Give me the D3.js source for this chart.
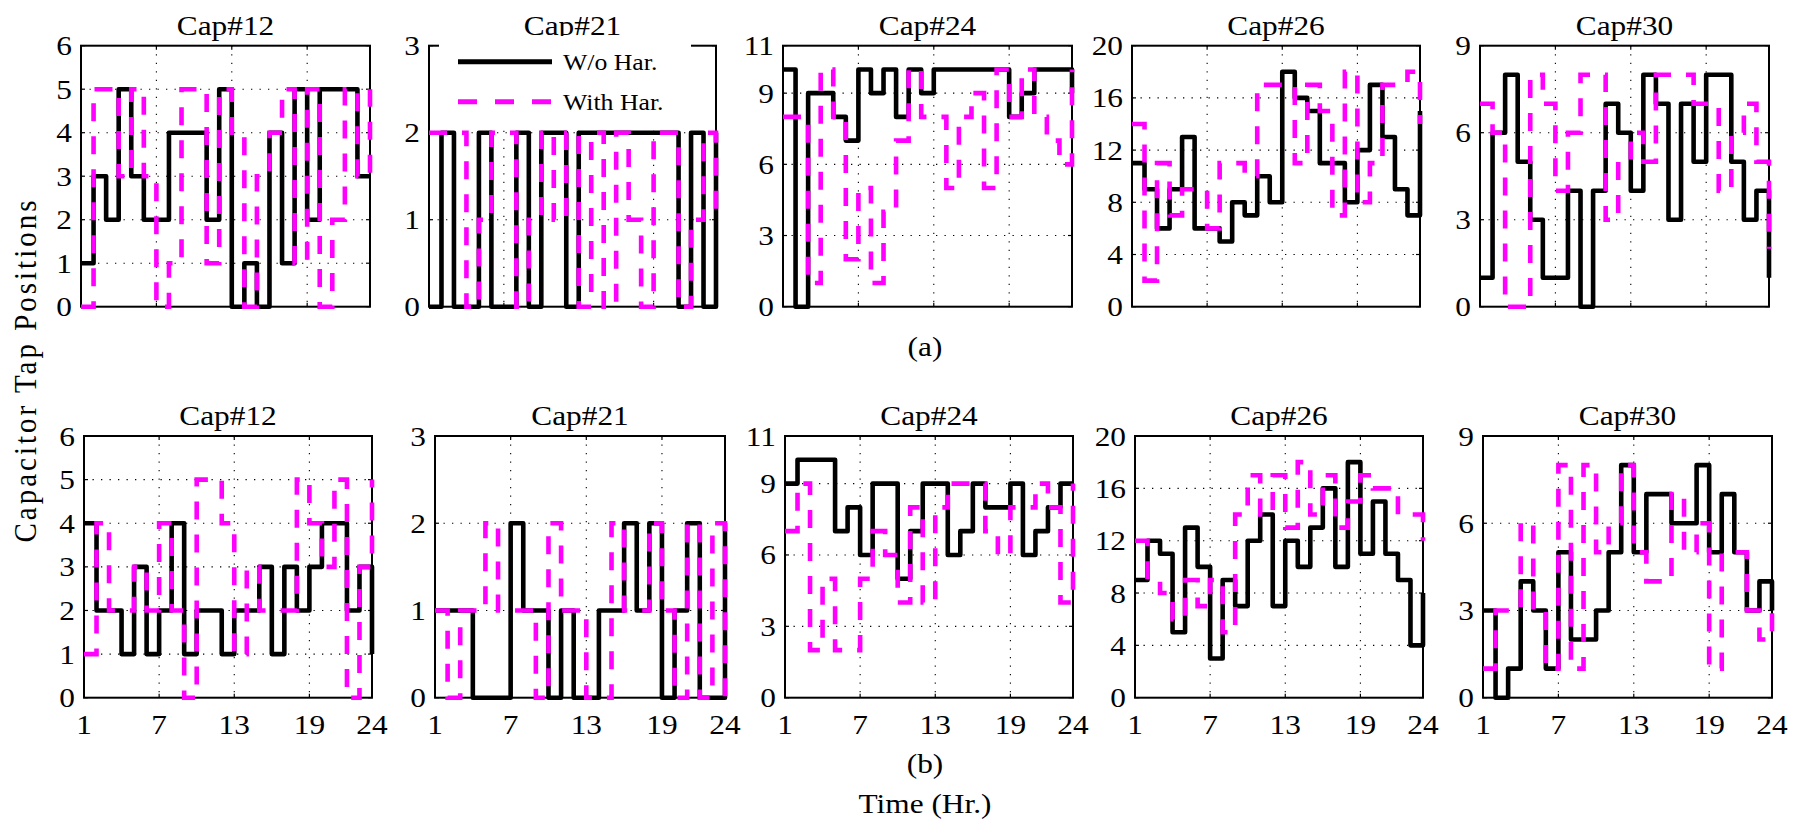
<!DOCTYPE html>
<html><head><meta charset="utf-8">
<script src="https://cdn.jsdelivr.net/npm/d3@7"></script>
<style>
body{margin:0;background:#fff}
svg{display:block}
text{font-family:"Liberation Serif","Times New Roman",serif;fill:#000}
</style>
</head><body>
<svg id="chart" width="1809" height="822"></svg>
<script>
// ---------------- data ----------------
const hours = [1,2,3,4,5,6,7,8,9,10,11,12,13,14,15,16,17,18,19,20,21,22,23,24];
const capNames = ["Cap#12","Cap#21","Cap#24","Cap#26","Cap#30"];
const yMaxes = [6,3,11,20,9];
const yTicks = [[0,1,2,3,4,5,6],[0,1,2,3],[0,3,6,9,11],[0,4,8,12,16,20],[0,3,6,9]];
const xTicks = [1,7,13,19,24];
const rowLabels = ["(a)","(b)"];
const legendLabels = ["W/o Har.","With Har."];
const xTitle = "Time (Hr.)";
const yTitle = "Capacitor Tap Positions";

// (a) row
const a12_wo = [1,3,2,5,3,2,2,4,4,4,2,5,0,1,0,4,1,5,2,5,5,5,3,3];
const a12_w  = [0,5,5,3,5,3,0,1,5,5,1,5,4,0,3,4,5,1,5,0,2,5,3,5];
const a21_wo = [0,2,0,0,2,0,0,2,0,2,2,0,2,2,2,2,2,2,2,2,0,2,0,2];
const a21_w  = [2,2,2,0,1,2,2,0,1,2,1,2,0,2,0,2,1,0,2,2,0,1,2,1];
const a24_wo = [10,0,9,9,8,7,10,9,10,8,10,9,10,10,10,10,10,10,8,9,10,10,10,9];
const a24_w  = [8,8,1,10,8,2,5,1,4,7,10,8,8,5,8,9,5,10,8,10,8,7,6,10];
const a26_wo = [11,9,6,9,13,6,6,5,8,7,10,8,18,16,15,11,11,8,12,17,13,9,7,15];
const a26_w  = [14,2,11,7,9,9,6,11,11,10,17,17,17,11,17,15,7,18,8,11,17,17,18,14];
const a30_wo = [1,6,8,5,3,1,1,4,0,4,7,6,4,8,7,3,7,5,8,8,5,3,4,1];
const a30_w  = [7,6,0,0,8,7,4,6,8,8,3,5,6,5,8,8,8,7,7,4,6,7,5,2];
// (b) row
const b12_wo = [4,2,2,1,3,1,2,4,1,2,2,1,2,2,3,1,3,2,3,4,4,2,3,1];
const b12_w  = [1,4,2,2,3,2,4,2,0,5,5,4,1,3,2,2,2,5,4,3,5,0,3,5];
const b21_wo = [1,1,1,0,0,0,2,1,1,0,1,0,0,1,1,2,1,2,0,1,2,0,0,2];
const b21_w  = [1,0,1,1,2,1,1,1,0,2,1,1,0,0,2,1,1,2,1,0,2,0,2,0];
const b24_wo = [9,10,10,10,7,8,6,9,9,5,7,9,9,6,7,9,8,8,9,6,7,8,9,9];
const b24_w  = [7,9,2,5,2,2,5,7,6,4,8,4,8,9,9,9,7,6,8,8,9,8,4,9];
const b26_wo = [9,12,11,5,13,10,3,9,7,12,14,7,12,10,13,16,10,18,11,15,11,9,4,8];
const b26_w  = [12,9,8,6,9,7,9,5,14,17,14,17,13,18,14,17,13,15,17,16,16,14,14,12];
const b30_wo = [3,0,1,4,3,1,5,2,2,3,5,8,5,7,7,6,6,8,5,7,5,3,4,3];
const b30_w  = [1,3,3,6,3,1,8,1,8,5,6,8,5,4,4,7,5,6,1,5,5,3,2,3];

const rowsData = [
  [[a12_wo,a12_w],[a21_wo,a21_w],[a24_wo,a24_w],[a26_wo,a26_w],[a30_wo,a30_w]],
  [[b12_wo,b12_w],[b21_wo,b21_w],[b24_wo,b24_w],[b26_wo,b26_w],[b30_wo,b30_w]]
];

// ---------------- layout ----------------
const layout = [
  {top:45.7, bottom:306.7, lefts:[81,429,783,1132,1480], rights:[370,716,1072,1420,1769],
   titleY:25, showX:false, labelY:346},
  {top:436, bottom:697.7, lefts:[84,435,785,1135,1483], rights:[372,725,1073,1423,1772],
   titleY:415, showX:true, labelY:763}
];
const SX = 1.12;
const FONT = "Liberation Serif, Times New Roman, serif";
const BLACK = "#000", MAG = "#ff00ff";

const svg = d3.select("#chart");

function txt(g, x, y, s, size, anchor, rot) {
  return g.append("text")
    .attr("transform", rot ? `translate(${x},${y}) rotate(-90) scale(1,${SX})`
                           : `translate(${x},${y}) scale(${SX},1)`)
    .attr("text-anchor", anchor || "middle")
    .attr("dy", "0.34em")
    .attr("font-family", FONT)
    .style("font-size", size + "px")
    .text(s);
}

layout.forEach((L, r) => {
  for (let p = 0; p < 5; p++) {
    const x = d3.scaleLinear().domain([1,24]).range([L.lefts[p], L.rights[p]]);
    const y = d3.scaleLinear().domain([0,yMaxes[p]]).range([L.bottom, L.top]);
    const g = svg.append("g");
    const x0 = L.lefts[p], x1 = L.rights[p];

    // grid
    yTicks[p].filter(v => v > 0 && v < yMaxes[p]).forEach(v => {
      g.append("line").attr("x1",x0).attr("x2",x1).attr("y1",y(v)).attr("y2",y(v))
        .attr("stroke","#000").attr("stroke-width",1.1).attr("stroke-dasharray","1.3,7.2");
    });
    xTicks.filter(v => v > 1 && v < 24).forEach(v => {
      g.append("line").attr("x1",x(v)).attr("x2",x(v)).attr("y1",L.top).attr("y2",L.bottom)
        .attr("stroke","#000").attr("stroke-width",1.1).attr("stroke-dasharray","1.3,7.2");
    });

    // tick marks (inward, mirrored)
    yTicks[p].forEach(v => {
      g.append("line").attr("x1",x0).attr("x2",x0+4).attr("y1",y(v)).attr("y2",y(v)).attr("stroke","#000").attr("stroke-width",1.2);
      g.append("line").attr("x1",x1).attr("x2",x1-4).attr("y1",y(v)).attr("y2",y(v)).attr("stroke","#000").attr("stroke-width",1.2);
    });
    xTicks.forEach(v => {
      g.append("line").attr("x1",x(v)).attr("x2",x(v)).attr("y1",L.bottom).attr("y2",L.bottom-4).attr("stroke","#000").attr("stroke-width",1.2);
      g.append("line").attr("x1",x(v)).attr("x2",x(v)).attr("y1",L.top).attr("y2",L.top+4).attr("stroke","#000").attr("stroke-width",1.2);
    });

    // frame
    g.append("rect").attr("x",x0).attr("y",L.top).attr("width",x1-x0).attr("height",L.bottom-L.top)
      .attr("fill","none").attr("stroke","#000").attr("stroke-width",2);

    // y tick labels
    yTicks[p].forEach(v => txt(g, x0 - 9, y(v), String(v), 28, "end"));
    // x tick labels
    if (L.showX) xTicks.forEach(v => txt(g, x(v), 724, String(v), 28, "middle"));
    // title
    txt(g, (x0+x1)/2, L.titleY, capNames[p], 28, "middle");

    // series
    const line = d3.line().x(d => x(d[0])).y(d => y(d[1])).curve(d3.curveStepAfter);
    const [wo, w] = rowsData[r][p];
    g.append("path").datum(hours.map((h,i)=>[h,wo[i]])).attr("d",line)
      .attr("fill","none").attr("stroke",BLACK).attr("stroke-width",4.6).attr("stroke-linejoin","round");
    g.append("path").datum(hours.map((h,i)=>[h,w[i]])).attr("d",line)
      .attr("fill","none").attr("stroke",MAG).attr("stroke-width",4.6).attr("stroke-dasharray","18,15")
      .attr("stroke-linejoin","miter");
  }
  // row label
  txt(svg, 925, L.labelY, rowLabels[r], 28, "middle");
});

// legend (in Cap#21 of row a)
const lg = svg.append("g");
lg.append("rect").attr("x",439).attr("y",36).attr("width",252).attr("height",92).attr("fill","#fff");
lg.append("line").attr("x1",458).attr("x2",552).attr("y1",61.7).attr("y2",61.7)
  .attr("stroke",BLACK).attr("stroke-width",5);
lg.append("line").attr("x1",458).attr("x2",552).attr("y1",101.7).attr("y2",101.7)
  .attr("stroke",MAG).attr("stroke-width",5).attr("stroke-dasharray","19,18");
txt(lg, 563, 61.7, legendLabels[0], 23, "start");
txt(lg, 563, 101.7, legendLabels[1], 23, "start");

// axis titles
txt(svg, 925, 803, xTitle, 28, "middle");
txt(svg, 25, 370, yTitle, 29, "middle", true).style("letter-spacing","3px");
</script>
</body></html>
